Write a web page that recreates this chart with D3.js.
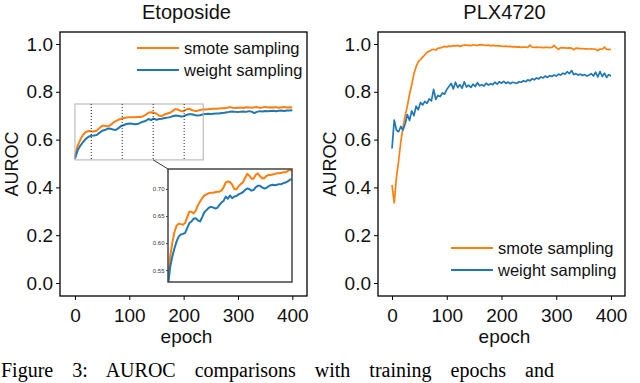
<!DOCTYPE html>
<html>
<head>
<meta charset="utf-8">
<script src="https://cdn.jsdelivr.net/npm/d3@7/dist/d3.min.js"></script>
<style>
body{margin:0;background:#fff;}
svg{display:block;font-family:"Liberation Sans",Arial,Helvetica,sans-serif;}
</style>
</head>
<body>
<svg id="chart" width="640" height="383"></svg>
<script>
// ---- data ----
var series_names = ['smote sampling', 'weight sampling'];
var series_colors = ['#ff7f0e', '#1f77b4'];
var x_ticks = [0, 100, 200, 300, 400];
var y_ticks = [0.0, 0.2, 0.4, 0.6, 0.8, 1.0];
var inset_y_ticks = [0.55, 0.60, 0.65, 0.70];

// Etoposide, one value every 5 epochs (0..400)
var etoposide_step = 5;
var etoposide_smote = [
  0.530, 0.575, 0.600, 0.620, 0.632, 0.636, 0.635, 0.634, 0.637, 0.648,
  0.658, 0.658, 0.655, 0.660, 0.670, 0.677, 0.683, 0.688, 0.690, 0.692,
  0.693, 0.693, 0.694, 0.695, 0.695, 0.697, 0.703, 0.712, 0.714, 0.713,
  0.708, 0.700, 0.699, 0.705, 0.709, 0.712, 0.720, 0.728, 0.725, 0.719,
  0.719, 0.726, 0.729, 0.724, 0.720, 0.720, 0.724, 0.726, 0.726, 0.727,
  0.728, 0.729, 0.729, 0.730, 0.731, 0.731, 0.733, 0.736, 0.733, 0.732,
  0.733, 0.734, 0.732, 0.735, 0.734, 0.733, 0.735, 0.736, 0.733, 0.734,
  0.737, 0.734, 0.735, 0.734, 0.736, 0.733, 0.735, 0.736, 0.734, 0.735,
  0.734
];
var etoposide_weight = [
  0.520, 0.555, 0.575, 0.590, 0.603, 0.612, 0.616, 0.617, 0.619, 0.628,
  0.637, 0.640, 0.645, 0.646, 0.642, 0.640, 0.648, 0.657, 0.661, 0.665,
  0.667, 0.666, 0.664, 0.665, 0.670, 0.675, 0.678, 0.686, 0.682, 0.688,
  0.683, 0.686, 0.687, 0.690, 0.692, 0.694, 0.698, 0.701, 0.700, 0.697,
  0.698, 0.703, 0.706, 0.706, 0.703, 0.701, 0.702, 0.705, 0.707, 0.708,
  0.707, 0.708, 0.709, 0.709, 0.711, 0.712, 0.714, 0.717, 0.718, 0.716,
  0.715, 0.717, 0.718, 0.716, 0.719, 0.717, 0.711, 0.716, 0.719, 0.718,
  0.720, 0.719, 0.720, 0.721, 0.719, 0.721, 0.722, 0.720, 0.722, 0.722,
  0.723
];

// PLX4720, one value every 4 epochs (0..400)
var plx_step = 4;
var plx_smote = [
  0.410, 0.335, 0.440, 0.510, 0.590, 0.650, 0.700, 0.740, 0.790, 0.830,
  0.875, 0.905, 0.925, 0.935, 0.945, 0.955, 0.965, 0.970, 0.975, 0.978,
  0.975, 0.982, 0.984, 0.986, 0.990, 0.988, 0.991, 0.990, 0.993, 0.992,
  0.994, 0.990, 0.993, 0.996, 0.994, 0.995, 0.993, 0.997, 0.995, 0.994,
  0.996, 0.997, 0.995, 0.994, 0.995, 0.993, 0.994, 0.993, 0.992, 0.993,
  0.991, 0.990, 0.991, 0.989, 0.990, 0.988, 0.989, 0.987, 0.988, 0.986,
  0.987, 0.987, 0.986, 0.995, 0.987, 0.986, 0.987, 0.986, 0.986, 0.985,
  0.986, 0.986, 0.985, 0.986, 0.994, 0.985, 0.978, 0.985, 0.984, 0.984,
  0.983, 0.984, 0.983, 0.976, 0.983, 0.982, 0.981, 0.981, 0.980, 0.980,
  0.979, 0.980, 0.979, 0.978, 0.972, 0.979, 0.978, 0.987, 0.977, 0.978,
  0.977
];
var plx_weight = [
  0.563, 0.682, 0.640, 0.633, 0.655, 0.640, 0.665, 0.705, 0.680, 0.720,
  0.700, 0.740, 0.725, 0.755, 0.745, 0.760, 0.752, 0.770, 0.762, 0.810,
  0.768, 0.785, 0.780, 0.795, 0.790, 0.810, 0.822, 0.835, 0.812, 0.840,
  0.818, 0.830, 0.815, 0.842, 0.820, 0.828, 0.818, 0.832, 0.822, 0.838,
  0.825, 0.830, 0.824, 0.836, 0.828, 0.834, 0.830, 0.840, 0.832, 0.842,
  0.836, 0.844, 0.835, 0.841, 0.834, 0.840, 0.838, 0.835, 0.842, 0.840,
  0.846, 0.842, 0.850, 0.846, 0.855, 0.850, 0.858, 0.854, 0.862, 0.858,
  0.866, 0.860, 0.868, 0.864, 0.870, 0.866, 0.874, 0.870, 0.878, 0.874,
  0.884, 0.876, 0.889, 0.872, 0.876, 0.870, 0.874, 0.868, 0.872, 0.866,
  0.870, 0.876, 0.866, 0.882, 0.862, 0.885, 0.864, 0.878, 0.860, 0.872,
  0.866
];

// zoomed region of the Etoposide panel and the dotted markers inside it
var zoom_epochs = [0, 236];
var zoom_auroc = [0.515, 0.749];
var zoom_markers = [30, 87, 144, 201];
var inset_epochs = [0, 290];
var inset_auroc = [0.528, 0.737];

var caption = 'Figure 3:  AUROC comparisons with training epochs and';

draw_chart();

function to_points(values, step){
    return values.map(function(v, i){ return {epoch: i * step, auroc: v}; });
}

function draw_chart(){
    var svg = d3.select('#chart');

    var left = draw_panel(svg, 'eto', {left: 60, top: 32, right: 307, bottom: 296},
        [-27.5, 427], 'Etoposide',
        [to_points(etoposide_smote, etoposide_step), to_points(etoposide_weight, etoposide_step)], 2);
    draw_legend(left.g, 137, 48);
    draw_zoom_marks(left.g, left.x_scale, left.y_scale);
    draw_inset(left.g, {left: 168, top: 169, right: 292, bottom: 282},
        [to_points(etoposide_smote, etoposide_step), to_points(etoposide_weight, etoposide_step)]);

    var right = draw_panel(svg, 'plx', {left: 378, top: 32, right: 625, bottom: 296},
        [-25.6, 425.6], 'PLX4720',
        [to_points(plx_smote, plx_step), to_points(plx_weight, plx_step)], 1.7);
    draw_legend(right.g, 451, 248);

    // caption line, justified across the page by widening the word gaps
    var cap = svg.append('text')
        .attr('x', 1)
        .attr('y', 377)
        .style('font-family', '"Liberation Serif","Times New Roman",serif')
        .style('font-size', '20px')
        .attr('fill', '#000')
        .text(caption);
    var natural = cap.node().getComputedTextLength();
    var gaps = caption.split(' ').length - 1;
    cap.style('word-spacing', Math.max(0, Math.min(14, (637 - natural) / gaps)) + 'px');
}

function draw_panel(svg, id, box, x_domain, title, data, line_width){
    var g = svg.append('g');
    var x_scale = d3.scaleLinear().domain(x_domain).range([box.left, box.right]);
    var y_scale = d3.scaleLinear().domain([-0.0544, 1.0502]).range([box.bottom, box.top]);

    g.append('clipPath').attr('id', 'clip-' + id)
        .append('rect')
        .attr('x', box.left).attr('y', box.top)
        .attr('width', box.right - box.left).attr('height', box.bottom - box.top);

    var x_axis = g.append('g')
        .attr('transform', 'translate(0,' + box.bottom + ')')
        .call(d3.axisBottom(x_scale).tickValues(x_ticks).tickSize(4).tickPadding(5).tickFormat(d3.format('d')));
    var y_axis = g.append('g')
        .attr('transform', 'translate(' + box.left + ',0)')
        .call(d3.axisLeft(y_scale).tickValues(y_ticks).tickSize(4).tickPadding(3).tickFormat(d3.format('.1f')));
    [x_axis, y_axis].forEach(function(a){
        a.select('.domain').remove();
        a.selectAll('line').attr('stroke', '#000').attr('stroke-width', 1);
        a.selectAll('text').attr('fill', '#111').style('font-size', '19px').style('font-family', null);
    });
    x_axis.selectAll('text').attr('dy', '0.9em');

    var line = d3.line()
        .x(function(d){ return x_scale(d.epoch); })
        .y(function(d){ return y_scale(d.auroc); });

    var plot = g.append('g').attr('clip-path', 'url(#clip-' + id + ')');
    plot.selectAll('.series')
        .data(data)
        .enter()
        .append('path')
        .attr('class', 'series')
        .attr('d', line)
        .attr('fill', 'none')
        .attr('stroke', function(d, i){ return series_colors[i]; })
        .attr('stroke-width', line_width)
        .attr('stroke-linejoin', 'round');

    g.append('rect')
        .attr('x', box.left).attr('y', box.top)
        .attr('width', box.right - box.left).attr('height', box.bottom - box.top)
        .attr('fill', 'none').attr('stroke', '#000').attr('stroke-width', 1.3);

    g.append('text')
        .attr('x', (box.left + box.right) / 2 + 3)
        .attr('y', 19)
        .attr('text-anchor', 'middle')
        .style('font-size', '20px')
        .attr('fill', '#111')
        .text(title);

    g.append('text')
        .attr('x', (box.left + box.right) / 2 + 3)
        .attr('y', 343)
        .attr('text-anchor', 'middle')
        .style('font-size', '19px')
        .attr('fill', '#111')
        .text('epoch');

    g.append('text')
        .attr('transform', 'translate(' + (box.left - 42) + ',' + 164 + ') rotate(-90)')
        .attr('text-anchor', 'middle')
        .style('font-size', '18px')
        .attr('fill', '#111')
        .text('AUROC');

    return {g: g, x_scale: x_scale, y_scale: y_scale};
}

function draw_legend(g, x0, y0){
    var items = g.append('g').selectAll('.legend')
        .data(series_names)
        .enter()
        .append('g')
        .attr('class', 'legend')
        .attr('transform', function(d, i){ return 'translate(' + x0 + ',' + (y0 + i * 22) + ')'; });
    items.append('line')
        .attr('x1', 0).attr('x2', 42).attr('y1', 0).attr('y2', 0)
        .attr('stroke', function(d, i){ return series_colors[i]; })
        .attr('stroke-width', 2);
    items.append('text')
        .attr('x', 47).attr('y', 6)
        .style('font-size', '16.5px')
        .attr('fill', '#111')
        .text(function(d){ return d; });
}

function draw_zoom_marks(g, x_scale, y_scale){
    var x0 = x_scale(zoom_epochs[0]), x1 = x_scale(zoom_epochs[1]);
    var y0 = y_scale(zoom_auroc[1]), y1 = y_scale(zoom_auroc[0]);
    g.append('rect')
        .attr('x', x0).attr('y', y0)
        .attr('width', x1 - x0).attr('height', y1 - y0)
        .attr('fill', 'none').attr('stroke', '#b0b0b0').attr('stroke-width', 1);
    g.selectAll('.marker')
        .data(zoom_markers)
        .enter()
        .append('line')
        .attr('class', 'marker')
        .attr('x1', function(d){ return x_scale(d); })
        .attr('x2', function(d){ return x_scale(d); })
        .attr('y1', y0).attr('y2', y1)
        .attr('stroke', '#222').attr('stroke-width', 1)
        .attr('stroke-dasharray', '1,2');
    g.append('line')
        .attr('x1', x_scale(zoom_markers[2])).attr('y1', y1)
        .attr('x2', 168).attr('y2', 169)
        .attr('stroke', '#333').attr('stroke-width', 1);
}

function draw_inset(g, box, data){
    var x_scale = d3.scaleLinear().domain(inset_epochs).range([box.left, box.right]);
    var y_scale = d3.scaleLinear().domain(inset_auroc).range([box.bottom, box.top]);

    g.append('rect')
        .attr('x', box.left).attr('y', box.top)
        .attr('width', box.right - box.left).attr('height', box.bottom - box.top)
        .attr('fill', '#fff');

    g.append('clipPath').attr('id', 'clip-inset')
        .append('rect')
        .attr('x', box.left).attr('y', box.top)
        .attr('width', box.right - box.left).attr('height', box.bottom - box.top);

    var line = d3.line()
        .x(function(d){ return x_scale(d.epoch); })
        .y(function(d){ return y_scale(d.auroc); });

    g.append('g').attr('clip-path', 'url(#clip-inset)')
        .selectAll('path')
        .data(data)
        .enter()
        .append('path')
        .attr('d', line)
        .attr('fill', 'none')
        .attr('stroke', function(d, i){ return series_colors[i]; })
        .attr('stroke-width', 2)
        .attr('stroke-linejoin', 'round');

    var y_axis = g.append('g')
        .attr('transform', 'translate(' + box.left + ',0)')
        .call(d3.axisLeft(y_scale).tickValues(inset_y_ticks).tickSize(2).tickPadding(1.5).tickFormat(d3.format('.2f')));
    y_axis.select('.domain').remove();
    y_axis.selectAll('line').attr('stroke', '#444');
    y_axis.selectAll('text').attr('fill', '#333').style('font-size', '6px').style('font-family', null);

    g.append('rect')
        .attr('x', box.left).attr('y', box.top)
        .attr('width', box.right - box.left).attr('height', box.bottom - box.top)
        .attr('fill', 'none').attr('stroke', '#444').attr('stroke-width', 1.5);
}
</script>
</body>
</html>
